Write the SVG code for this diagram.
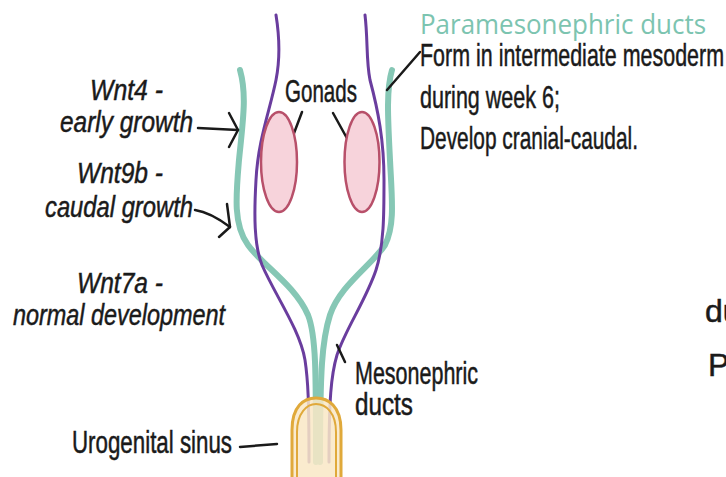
<svg xmlns="http://www.w3.org/2000/svg" width="726" height="477" viewBox="0 0 726 477">
  <style>
    .lbl { font-family: "Liberation Sans", "DejaVu Sans", sans-serif; fill: #1a1a1a; stroke: #1a1a1a; stroke-width: 0.5; }
    .it { font-style: italic; }
    .teal { fill: none; stroke: #86c7b5; stroke-width: 6; stroke-linecap: round; }
    .purple { fill: none; stroke: #6a3d9e; stroke-width: 3; stroke-linecap: round; }
    .lead { fill: none; stroke: #1a1a1a; stroke-width: 2.5; stroke-linecap: round; stroke-linejoin: round; }
    .gonad { fill: #f7d3db; stroke: #b8506a; stroke-width: 2.5; }
  </style>
  <rect width="726" height="477" fill="#ffffff"/>

  <!-- ducts -->
  <g id="connectors">
    <path class="teal" d="M240,70 C247,95 243,120 239,160 C236,195 233,225 248,245 C262,265 295,285 308,315 C316,335 316,370 316,462"/>
    <path class="teal" d="M392,70 C386,90 388,120 390,160 C392,200 395,225 385,245 C372,265 340,285 330,315 C322,340 320,370 320,462"/>
    <path class="purple" d="M276,15 C280,40 280,60 276,80 C270,110 258,140 256,180 C254,215 254,245 262,265 C275,295 300,330 305,360 C308,380 309,400 309,462"/>
    <path class="purple" d="M365,15 C368,40 366,60 370,80 C378,110 384,140 384,180 C384,215 384,245 376,270 C366,300 345,330 337,355 C331,375 329,400 329,462"/>
    <!-- leader lines -->
    <path class="lead" d="M387,90 L420,52"/>
    <path class="lead" d="M302,112 L282,165"/>
    <path class="lead" d="M333,113 L359,160"/>
    <path class="lead" d="M337,345 L345,362"/>
    <path class="lead" d="M240,447 L277,444"/>
    <!-- arrows -->
    <path class="lead" d="M198,128 L238,130"/>
    <path class="lead" d="M229,113 L238,130 L229,147"/>
    <path class="lead" d="M195,210 C208,212 218,218 230,227"/>
    <path class="lead" d="M227,204 L230,227 L219,237"/>
  </g>

  <g id="gonad-left"><ellipse class="gonad" cx="279" cy="162" rx="18" ry="50"/></g>
  <g id="gonad-right"><ellipse class="gonad" cx="362" cy="162" rx="17.5" ry="50"/></g>

  <g id="urogenital-sinus">
    <path d="M292,480 L292,430 C292,406 304,398 316,398 C328,398 341,406 341,430 L341,480 Z" fill="#f9e8c6" fill-opacity="0.85"/>
    <path d="M292,480 L292,430 C292,406 304,398 316,398 C328,398 341,406 341,430 L341,480" fill="none" stroke="#e0a93a" stroke-width="3"/>
    <path d="M297,480 L297,432 C297,413 307,404 316,404 C326,404 336,413 336,432 L336,480" fill="none" stroke="#e0a93a" stroke-width="2"/>
  </g>

  <g id="label-paramesonephric">
    <text x="420" y="34" font-family="'Open Sans', 'Liberation Sans', sans-serif" font-size="28" fill="#7cc4b0" textLength="286" lengthAdjust="spacingAndGlyphs">Paramesonephric ducts</text>
    <text class="lbl" x="420" y="66" font-size="32" textLength="304" lengthAdjust="spacingAndGlyphs">Form in intermediate mesoderm</text>
    <text class="lbl" x="420" y="108" font-size="32" textLength="140" lengthAdjust="spacingAndGlyphs">during week 6;</text>
    <text class="lbl" x="420" y="149" font-size="32" textLength="218" lengthAdjust="spacingAndGlyphs">Develop cranial-caudal.</text>
  </g>

  <g id="label-gonads">
    <text class="lbl" x="285" y="102" font-size="32" textLength="72" lengthAdjust="spacingAndGlyphs">Gonads</text>
  </g>

  <g id="label-wnt4">
    <text class="lbl it" x="90" y="100" font-size="30" textLength="73" lengthAdjust="spacingAndGlyphs">Wnt4 -</text>
    <text class="lbl it" x="60" y="132" font-size="30" textLength="133" lengthAdjust="spacingAndGlyphs">early growth</text>
  </g>
  <g id="label-wnt9b">
    <text class="lbl it" x="77" y="183" font-size="30" textLength="86" lengthAdjust="spacingAndGlyphs">Wnt9b -</text>
    <text class="lbl it" x="45" y="217" font-size="30" textLength="148" lengthAdjust="spacingAndGlyphs">caudal growth</text>
  </g>
  <g id="label-wnt7a">
    <text class="lbl it" x="77" y="293" font-size="30" textLength="86" lengthAdjust="spacingAndGlyphs">Wnt7a -</text>
    <text class="lbl it" x="13" y="325" font-size="30" textLength="212" lengthAdjust="spacingAndGlyphs">normal development</text>
  </g>

  <g id="label-mesonephric">
    <text class="lbl" x="355" y="384" font-size="31" textLength="123" lengthAdjust="spacingAndGlyphs">Mesonephric</text>
    <text class="lbl" x="355" y="415" font-size="31" textLength="58" lengthAdjust="spacingAndGlyphs">ducts</text>
  </g>

  <g id="label-urogenital">
    <text class="lbl" x="72" y="453" font-size="31" textLength="160" lengthAdjust="spacingAndGlyphs">Urogenital sinus</text>
  </g>

  <g id="label-edge">
    <text class="lbl" x="705" y="322" font-size="32">du</text>
    <text class="lbl" x="708" y="376" font-size="32">Pa</text>
  </g>
</svg>
